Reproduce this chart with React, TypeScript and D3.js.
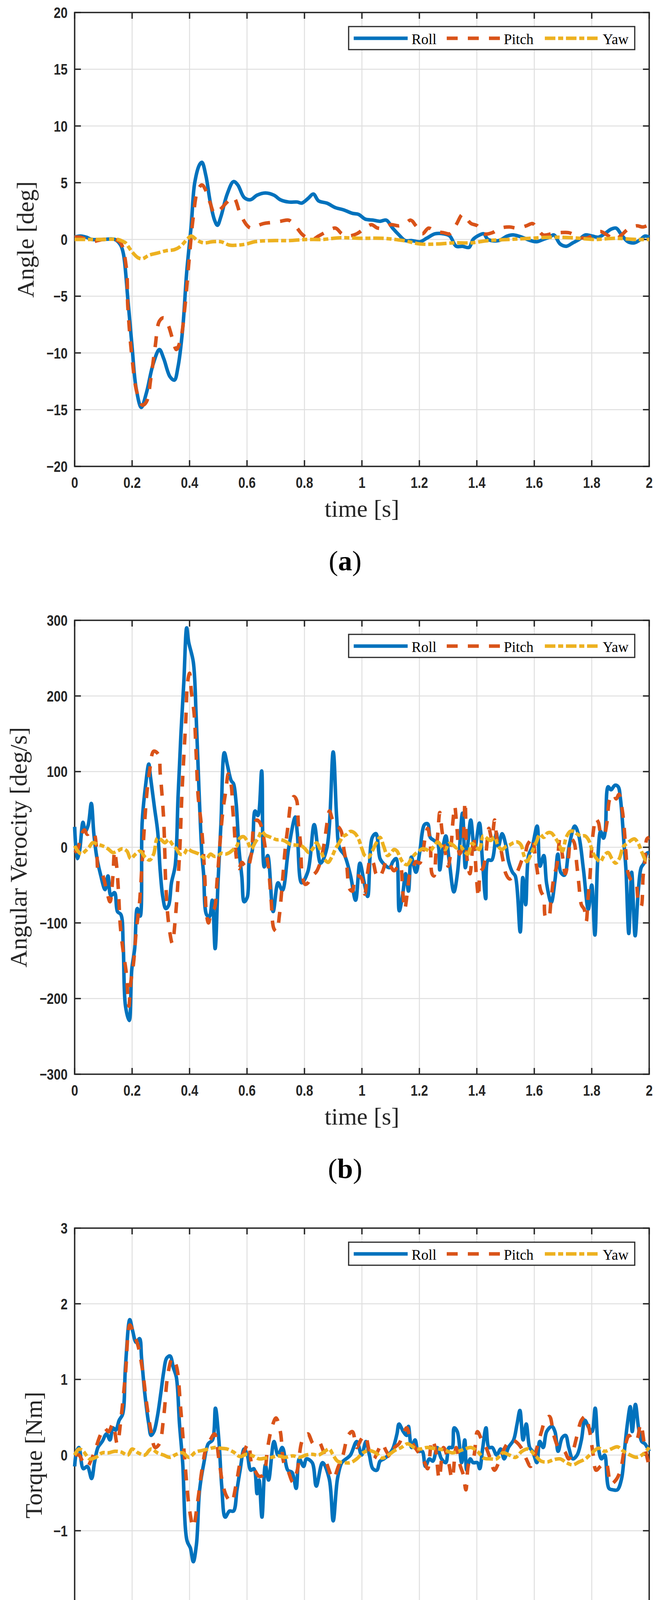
import React, { useEffect, useRef } from 'react';
import * as d3 from 'd3';

type Pt = [number, number];

// ---- axis ticks ----
const timeTicks = [0, 0.2, 0.4, 0.6, 0.8, 1, 1.2, 1.4, 1.6, 1.8, 2];
const angleTicks = [-20, -15, -10, -5, 0, 5, 10, 15, 20];
const velocityTicks = [-300, -200, -100, 0, 100, 200, 300];
const torqueTicks = [-3, -2, -1, 0, 1, 2, 3];
const seriesNames = ['Roll', 'Pitch', 'Yaw'];

// ---- (a) angle [deg] ----
const angleRoll: Pt[] = [[0,0.2],[0.02,0.3],[0.04,0.2],[0.06,0],[0.1,0],[0.14,0],[0.16,-0.5],[0.17,-1.3],[0.185,-5.2],[0.2,-9.5],[0.214,-13.1],[0.232,-14.8],[0.25,-13.5],[0.273,-11],[0.295,-9.7],[0.31,-10.5],[0.332,-12.1],[0.347,-12.4],[0.36,-11.2],[0.376,-7.9],[0.39,-2.9],[0.406,1.3],[0.418,5],[0.435,6.6],[0.443,6.8],[0.457,5.6],[0.472,3.3],[0.487,1.7],[0.497,1.25],[0.509,2.0],[0.531,4.0],[0.553,5.1],[0.568,4.8],[0.59,3.7],[0.612,3.5],[0.635,3.9],[0.664,4.1],[0.694,3.9],[0.716,3.5],[0.745,3.3],[0.775,3.3],[0.79,3.2],[0.812,3.6],[0.831,4.0],[0.849,3.4],[0.878,3.2],[0.908,2.8],[0.937,2.6],[0.967,2.3],[0.989,2.2],[1.011,1.8],[1.04,1.7],[1.063,1.6],[1.085,1.7],[1.107,1.0],[1.129,0.4],[1.151,-0.1],[1.173,-0.1],[1.203,-0.2],[1.225,0.1],[1.255,0.5],[1.284,0.5],[1.306,0.3],[1.328,-0.6],[1.35,-0.6],[1.373,-0.7],[1.387,0],[1.41,0.4],[1.424,0.5],[1.439,0],[1.476,-0.1],[1.506,0.3],[1.528,0.4],[1.557,0.2],[1.587,-0.1],[1.609,-0.2],[1.631,0],[1.653,0.2],[1.668,0.4],[1.69,-0.4],[1.712,-0.6],[1.734,-0.3],[1.756,0],[1.778,0.4],[1.801,0.3],[1.823,0.2],[1.845,0.5],[1.867,0.9],[1.885,1.0],[1.904,0.4],[1.926,-0.2],[1.948,-0.3],[1.97,0],[1.985,0.3],[2,0.2]];
const anglePitch: Pt[] = [[0,0.2],[0.02,0.2],[0.04,0],[0.06,-0.2],[0.08,-0.1],[0.1,0],[0.14,0],[0.16,-0.3],[0.18,-2.5],[0.185,-5.9],[0.2,-10.5],[0.217,-13.5],[0.236,-14.6],[0.25,-14.3],[0.266,-12.1],[0.28,-9.5],[0.295,-7.2],[0.31,-6.9],[0.325,-7.5],[0.34,-8.7],[0.354,-9.7],[0.369,-8.8],[0.384,-5.9],[0.398,-1.9],[0.413,2.0],[0.428,4.3],[0.443,4.8],[0.457,4.3],[0.472,3.2],[0.487,2.3],[0.509,2.7],[0.531,3.3],[0.553,3.7],[0.576,2.3],[0.598,1.3],[0.613,1.0],[0.635,1.2],[0.657,1.4],[0.686,1.5],[0.716,1.6],[0.745,1.7],[0.768,1.2],[0.79,0.5],[0.805,0.2],[0.827,0],[0.849,0.3],[0.878,0.7],[0.908,1.0],[0.93,0.5],[0.952,0.3],[0.982,0.5],[1.011,1.0],[1.033,1.3],[1.055,1.0],[1.078,1.0],[1.1,1.3],[1.129,1.2],[1.151,1.4],[1.17,1.7],[1.188,1.2],[1.21,0.5],[1.232,1.0],[1.255,0.7],[1.284,0.6],[1.306,0.5],[1.328,1.3],[1.35,2.2],[1.365,1.8],[1.38,1.4],[1.402,1.2],[1.424,0.5],[1.454,0.6],[1.483,1.0],[1.513,1.1],[1.542,1.0],[1.572,1.2],[1.594,1.4],[1.609,1.0],[1.631,0.4],[1.661,0.5],[1.69,0.6],[1.72,0.6],[1.749,0.3],[1.778,0.1],[1.808,0.4],[1.83,0.7],[1.853,0.4],[1.882,0],[1.904,0.4],[1.926,0.9],[1.956,1.2],[1.978,1.1],[2,1.3]];
const angleYaw: Pt[] = [[0,0],[0.1,0],[0.15,0],[0.17,-0.2],[0.177,-0.3],[0.2,-1.1],[0.22,-1.6],[0.236,-1.7],[0.258,-1.4],[0.288,-1.2],[0.317,-1.0],[0.347,-0.9],[0.369,-0.6],[0.391,0],[0.406,0.3],[0.428,-0.1],[0.45,-0.3],[0.48,-0.2],[0.509,-0.2],[0.539,-0.5],[0.568,-0.5],[0.598,-0.4],[0.627,-0.2],[0.686,-0.1],[0.745,-0.1],[0.805,0],[0.863,0],[0.922,0.15],[0.996,0.1],[1.07,0.1],[1.144,-0.1],[1.203,-0.4],[1.262,-0.4],[1.32,-0.3],[1.38,-0.3],[1.439,-0.1],[1.513,0],[1.587,0.1],[1.661,0.2],[1.734,0.15],[1.808,0],[1.882,0.1],[1.956,0],[2,0]];

// ---- (b) angular velocity [deg/s] ----
const velocityRoll: Pt[] = [[0,27],[0.009,-15],[0.017,-5],[0.029,33],[0.037,21],[0.047,29],[0.058,58],[0.067,17],[0.077,-13],[0.09,-36],[0.106,-56],[0.116,-38],[0.126,-64],[0.139,-60],[0.149,-85],[0.161,-89],[0.169,-130],[0.177,-210],[0.19,-229],[0.199,-161],[0.209,-134],[0.218,-81],[0.228,-91],[0.235,33],[0.247,82],[0.258,110],[0.264,93],[0.278,52],[0.289,21],[0.298,-32],[0.307,-66],[0.317,-81],[0.327,-77],[0.337,-47],[0.35,-24],[0.36,67],[0.37,150],[0.38,218],[0.39,290],[0.397,271],[0.413,245],[0.423,173],[0.433,74],[0.443,-9],[0.449,-36],[0.459,-89],[0.469,-92],[0.479,-70],[0.489,-134],[0.499,-47],[0.509,29],[0.521,125],[0.532,108],[0.545,88],[0.553,84],[0.562,59],[0.572,-2],[0.582,-39],[0.59,-72],[0.601,-66],[0.608,-17],[0.618,-5],[0.628,48],[0.638,42],[0.651,101],[0.66,-26],[0.672,-11],[0.691,-85],[0.708,-47],[0.723,-57],[0.745,-1],[0.768,40],[0.775,19],[0.79,-47],[0.812,-32],[0.834,30],[0.856,-21],[0.878,-1],[0.9,126],[0.912,40],[0.922,-1],[0.94,-11],[0.96,-37],[0.978,-70],[0.993,-21],[1.008,-47],[1.02,-65],[1.036,13],[1.049,18],[1.063,-15],[1.076,-22],[1.096,-27],[1.108,-19],[1.119,-15],[1.13,-84],[1.142,-62],[1.152,-35],[1.162,-58],[1.172,-13],[1.188,-33],[1.201,-7],[1.218,30],[1.229,31],[1.238,13],[1.251,9],[1.264,5],[1.271,-30],[1.28,-5],[1.292,15],[1.303,-15],[1.32,-59],[1.333,-33],[1.35,45],[1.36,-27],[1.369,5],[1.379,36],[1.392,-3],[1.409,32],[1.419,-15],[1.431,-68],[1.439,-17],[1.452,-17],[1.468,19],[1.475,1],[1.488,18],[1.501,3],[1.511,-19],[1.524,-33],[1.534,-38],[1.551,-112],[1.56,-40],[1.57,-76],[1.58,-11],[1.593,1],[1.61,28],[1.62,-25],[1.633,-11],[1.643,-48],[1.659,-73],[1.672,-44],[1.682,-9],[1.692,-33],[1.705,-37],[1.722,3],[1.741,28],[1.755,15],[1.771,-29],[1.788,-82],[1.8,-50],[1.811,-116],[1.821,-15],[1.831,21],[1.841,12],[1.847,21],[1.857,80],[1.867,76],[1.881,82],[1.892,80],[1.9,64],[1.913,1],[1.919,-29],[1.929,-114],[1.939,-33],[1.951,-117],[1.962,-58],[1.972,-27],[1.982,-21],[1.992,-8],[2,-7]];
const velocityPitch: Pt[] = [[0,-7],[0.011,-2],[0.024,17],[0.034,23],[0.044,17],[0.057,21],[0.067,19],[0.077,-5],[0.083,-32],[0.096,-36],[0.11,-55],[0.123,-72],[0.133,-39],[0.139,-5],[0.146,-24],[0.152,-55],[0.159,-104],[0.169,-138],[0.179,-164],[0.189,-210],[0.195,-180],[0.205,-153],[0.215,-108],[0.225,-77],[0.235,-20],[0.243,29],[0.252,74],[0.261,101],[0.275,127],[0.291,123],[0.298,97],[0.304,70],[0.31,36],[0.314,-9],[0.317,-47],[0.327,-100],[0.34,-127],[0.35,-96],[0.36,-43],[0.367,6],[0.373,67],[0.38,120],[0.387,169],[0.393,218],[0.4,230],[0.406,207],[0.416,176],[0.423,123],[0.43,67],[0.44,33],[0.446,6],[0.453,-39],[0.459,-89],[0.466,-100],[0.476,-85],[0.486,-81],[0.496,-43],[0.506,6],[0.516,48],[0.526,74],[0.535,97],[0.545,82],[0.55,52],[0.555,29],[0.564,-17],[0.572,-28],[0.582,-20],[0.591,-24],[0.601,-28],[0.615,-9],[0.624,29],[0.634,36],[0.644,33],[0.654,21],[0.664,-2],[0.674,-24],[0.684,-70],[0.694,-108],[0.703,-111],[0.713,-89],[0.723,-47],[0.733,-2],[0.743,29],[0.753,59],[0.763,67],[0.772,63],[0.779,29],[0.786,6],[0.792,-36],[0.802,-49],[0.812,-47],[0.822,-39],[0.832,-36],[0.842,-32],[0.855,-20],[0.869,6],[0.879,33],[0.887,48],[0.898,36],[0.908,29],[0.918,27],[0.928,21],[0.937,-2],[0.947,-24],[0.957,-55],[0.967,-58],[0.977,-39],[0.99,-38],[1,-42],[1.01,-62],[1.02,-33],[1.03,-15],[1.04,-21],[1.049,-35],[1.06,-40],[1.073,-31],[1.086,-17],[1.1,-25],[1.112,-31],[1.132,-23],[1.142,-58],[1.149,-82],[1.158,-60],[1.168,-33],[1.178,-27],[1.188,-19],[1.201,-21],[1.211,-9],[1.222,17],[1.229,25],[1.238,5],[1.244,-35],[1.251,-38],[1.257,-11],[1.264,17],[1.271,46],[1.279,21],[1.29,-5],[1.3,-25],[1.307,-13],[1.317,35],[1.323,54],[1.33,29],[1.34,-9],[1.35,1],[1.359,60],[1.366,-15],[1.376,-35],[1.389,13],[1.399,-42],[1.406,-66],[1.412,-33],[1.422,-27],[1.432,-7],[1.442,25],[1.452,11],[1.462,36],[1.471,9],[1.481,1],[1.491,-17],[1.501,-35],[1.514,-42],[1.528,-38],[1.537,-35],[1.547,-27],[1.557,-17],[1.567,-11],[1.576,3],[1.586,9],[1.593,13],[1.603,-11],[1.613,-38],[1.623,-58],[1.633,-66],[1.639,-92],[1.649,-94],[1.659,-66],[1.669,-38],[1.679,-23],[1.689,11],[1.698,-11],[1.708,-35],[1.718,-17],[1.728,11],[1.738,7],[1.748,-23],[1.755,-48],[1.764,-76],[1.774,-82],[1.781,-98],[1.787,-68],[1.794,-38],[1.8,1],[1.807,25],[1.813,38],[1.823,33],[1.833,17],[1.843,17],[1.853,33],[1.863,64],[1.876,70],[1.885,64],[1.895,70],[1.906,50],[1.913,25],[1.919,-7],[1.926,-33],[1.939,-44],[1.952,-45],[1.962,-70],[1.972,-78],[1.979,-38],[1.985,-19],[1.992,11],[2,13]];
const velocityYaw: Pt[] = [[0,2],[0.011,-5],[0.024,-9],[0.037,-5],[0.05,0],[0.063,6],[0.08,4],[0.096,2],[0.116,-2],[0.133,-7],[0.149,-5],[0.166,-2],[0.182,-5],[0.195,-15],[0.212,-9],[0.228,-5],[0.245,-13],[0.261,-17],[0.275,-9],[0.288,12],[0.301,10],[0.314,6],[0.327,10],[0.34,4],[0.354,-2],[0.367,-9],[0.38,-9],[0.393,-2],[0.406,-5],[0.42,-7],[0.433,-9],[0.446,-13],[0.459,-15],[0.473,-9],[0.486,-12],[0.499,-11],[0.512,-8],[0.525,-9],[0.539,-7],[0.552,-3],[0.565,2],[0.575,12],[0.588,14],[0.601,8],[0.615,-2],[0.628,6],[0.641,14],[0.651,21],[0.664,16],[0.677,14],[0.69,12],[0.703,10],[0.717,10],[0.733,8],[0.75,4],[0.766,3],[0.789,2],[0.802,-2],[0.815,-7],[0.829,-2],[0.842,6],[0.855,-3],[0.869,-15],[0.882,-20],[0.895,-13],[0.908,-2],[0.921,6],[0.934,14],[0.947,17],[0.96,21],[0.974,19],[0.987,12],[1,-2],[1.01,-11],[1.023,-13],[1.036,-5],[1.049,5],[1.063,13],[1.076,1],[1.089,-11],[1.102,-7],[1.112,-3],[1.122,-5],[1.132,-13],[1.145,-21],[1.158,-23],[1.172,-15],[1.185,-9],[1.198,-5],[1.211,-2],[1.224,-3],[1.237,-5],[1.25,1],[1.264,7],[1.277,1],[1.29,-3],[1.303,5],[1.317,3],[1.33,-1],[1.343,1],[1.356,-5],[1.369,-9],[1.383,5],[1.396,1],[1.409,-3],[1.422,15],[1.435,12],[1.448,9],[1.462,13],[1.475,1],[1.488,-3],[1.501,1],[1.514,3],[1.528,6],[1.541,7],[1.554,3],[1.564,-11],[1.574,-19],[1.584,-13],[1.593,-5],[1.607,7],[1.62,17],[1.633,13],[1.646,19],[1.659,19],[1.672,13],[1.685,5],[1.698,-5],[1.711,13],[1.725,21],[1.738,21],[1.751,17],[1.764,15],[1.777,15],[1.79,9],[1.804,-7],[1.817,-15],[1.83,-19],[1.843,-11],[1.857,-7],[1.87,-15],[1.883,-21],[1.896,-15],[1.91,1],[1.923,5],[1.936,9],[1.949,11],[1.962,5],[1.975,-7],[1.989,-17],[2,-15]];

// ---- (c) torque [Nm] ----
const torqueRoll: Pt[] = [[0,-0.15],[0.007,0.05],[0.015,0.1],[0.03,-0.18],[0.044,-0.15],[0.059,-0.31],[0.069,-0.1],[0.081,0.1],[0.096,0.18],[0.111,0.28],[0.123,0.2],[0.133,0.36],[0.143,0.33],[0.155,0.46],[0.167,0.54],[0.177,1.18],[0.192,1.79],[0.202,1.64],[0.214,1.49],[0.226,1.54],[0.233,1.28],[0.244,0.82],[0.258,0.41],[0.266,0.26],[0.276,0.31],[0.288,0.51],[0.3,0.82],[0.31,1.1],[0.32,1.28],[0.332,1.31],[0.344,1.15],[0.354,1.03],[0.365,0.41],[0.376,-0.1],[0.391,-1.13],[0.403,-1.23],[0.413,-1.41],[0.424,-1.18],[0.435,-0.46],[0.45,-0.1],[0.465,0.15],[0.48,0.2],[0.49,0.62],[0.502,0.2],[0.512,-0.41],[0.524,-0.82],[0.539,-0.74],[0.553,-0.74],[0.565,-0.46],[0.576,-0.2],[0.59,0.08],[0.601,0],[0.613,-0.2],[0.624,-0.18],[0.635,-0.51],[0.642,-0.33],[0.652,-0.82],[0.664,-0.13],[0.675,-0.33],[0.694,0.18],[0.708,0],[0.723,0.1],[0.742,-0.2],[0.757,-0.23],[0.771,-0.44],[0.782,-0.05],[0.797,-0.15],[0.807,-0.05],[0.827,-0.1],[0.841,-0.41],[0.863,-0.1],[0.886,-0.31],[0.9,-0.87],[0.915,-0.31],[0.93,-0.1],[0.945,-0.05],[0.96,0],[0.982,0.18],[0.999,0],[1.014,0.18],[1.026,0],[1.038,-0.18],[1.052,-0.2],[1.063,-0.08],[1.077,-0.05],[1.092,0],[1.107,0.08],[1.122,0.28],[1.129,0.41],[1.144,0.31],[1.156,0.26],[1.162,0.38],[1.173,0.1],[1.185,0.2],[1.196,0.05],[1.21,0.05],[1.221,-0.15],[1.235,-0.05],[1.247,-0.08],[1.262,0.1],[1.277,-0.05],[1.292,-0.1],[1.303,0.1],[1.314,0.1],[1.321,0.36],[1.332,0.31],[1.347,-0.1],[1.358,0.2],[1.365,-0.2],[1.377,-0.05],[1.387,-0.1],[1.402,-0.1],[1.41,-0.18],[1.42,0.08],[1.432,0.36],[1.442,0.1],[1.454,0.1],[1.469,0],[1.483,0.08],[1.495,-0.05],[1.51,0.1],[1.528,0.2],[1.54,0.41],[1.55,0.59],[1.561,0.2],[1.572,0.41],[1.584,0.1],[1.594,0.05],[1.609,-0.1],[1.619,0.18],[1.631,0.1],[1.643,0.31],[1.661,0.38],[1.672,0.31],[1.683,0.05],[1.697,0.23],[1.709,0.26],[1.72,0.1],[1.734,-0.05],[1.749,0],[1.764,0.2],[1.776,0.46],[1.79,0.36],[1.801,0.31],[1.812,0.62],[1.823,0.1],[1.834,-0.05],[1.845,0],[1.86,-0.44],[1.875,-0.46],[1.889,-0.46],[1.904,-0.31],[1.915,0.1],[1.924,0.41],[1.934,0.64],[1.941,0.31],[1.952,0.67],[1.963,0.36],[1.974,0.18],[1.985,0.15],[2,0.05]];
const torquePitch: Pt[] = [[0,0],[0.015,0],[0.03,-0.1],[0.044,-0.15],[0.059,-0.05],[0.074,0.1],[0.089,0.26],[0.103,0.36],[0.118,0.31],[0.133,0.41],[0.148,0.15],[0.162,0.51],[0.177,1.08],[0.192,1.72],[0.207,1.59],[0.221,1.44],[0.236,1.13],[0.251,0.67],[0.266,0.31],[0.28,0.1],[0.295,0.15],[0.31,0.51],[0.325,1.08],[0.34,1.28],[0.354,1.18],[0.369,0.62],[0.384,-0.1],[0.398,-0.67],[0.413,-0.95],[0.428,-0.62],[0.443,-0.2],[0.458,0.1],[0.472,0.2],[0.487,0.28],[0.502,-0.05],[0.517,-0.41],[0.531,-0.56],[0.546,-0.62],[0.561,-0.41],[0.576,-0.1],[0.59,0.05],[0.605,0.15],[0.615,-0.1],[0.627,-0.2],[0.642,-0.28],[0.657,-0.26],[0.672,0.1],[0.686,0.36],[0.701,0.49],[0.716,0.31],[0.728,-0.1],[0.742,-0.2],[0.76,-0.36],[0.775,-0.2],[0.793,0.2],[0.812,0.28],[0.831,0.15],[0.849,0.18],[0.863,0.08],[0.881,-0.15],[0.9,-0.31],[0.918,-0.15],[0.934,0],[0.952,0.26],[0.967,0.31],[0.982,0.1],[0.996,0.2],[1.011,0.26],[1.026,0.05],[1.041,-0.05],[1.055,0.05],[1.07,0.15],[1.085,0.05],[1.1,-0.03],[1.114,0.1],[1.129,0.15],[1.144,0.28],[1.156,0.36],[1.17,0.2],[1.185,0.1],[1.203,0],[1.218,-0.1],[1.229,-0.18],[1.244,0.2],[1.255,0.1],[1.269,-0.31],[1.284,0.1],[1.299,-0.05],[1.314,-0.31],[1.328,0.1],[1.343,-0.15],[1.353,-0.26],[1.362,-0.46],[1.373,-0.1],[1.387,-0.05],[1.402,0.31],[1.417,0.2],[1.432,0.1],[1.447,-0.05],[1.461,-0.2],[1.476,-0.1],[1.491,0.05],[1.506,0.15],[1.52,0.2],[1.535,0.18],[1.554,0.1],[1.572,-0.05],[1.587,-0.15],[1.602,0],[1.613,0.15],[1.625,0.31],[1.638,0.46],[1.653,0.51],[1.668,0.26],[1.687,0.08],[1.705,0.05],[1.72,-0.05],[1.734,0.05],[1.749,0.26],[1.764,0.46],[1.778,0.51],[1.793,0.31],[1.805,0],[1.815,-0.2],[1.83,-0.15],[1.849,-0.1],[1.867,-0.38],[1.884,-0.33],[1.9,-0.2],[1.915,0.1],[1.93,0.26],[1.941,0.2],[1.956,0.2],[1.97,0.41],[1.985,0.1],[2,-0.15]];
const torqueYaw: Pt[] = [[0,0],[0.015,0.08],[0.03,0.05],[0.052,-0.05],[0.074,-0.03],[0.096,0.03],[0.118,0.03],[0.14,0.05],[0.162,0.04],[0.185,0],[0.2,0.08],[0.221,0.03],[0.244,0],[0.266,0.08],[0.288,0.03],[0.31,0],[0.332,-0.03],[0.354,0.01],[0.376,0.03],[0.398,-0.03],[0.421,0.04],[0.443,0.06],[0.465,0.08],[0.487,0.1],[0.509,0.09],[0.531,0.08],[0.553,0.04],[0.576,-0.02],[0.598,0.01],[0.62,-0.01],[0.642,-0.05],[0.664,-0.04],[0.686,-0.03],[0.708,-0.01],[0.731,-0.03],[0.76,-0.01],[0.782,-0.03],[0.805,0],[0.827,0.01],[0.849,0],[0.871,0.05],[0.886,0.08],[0.9,0],[0.915,-0.08],[0.937,-0.1],[0.96,-0.1],[0.982,-0.05],[1.004,0.03],[1.026,0.06],[1.048,0.03],[1.07,-0.04],[1.092,0],[1.114,0.06],[1.137,0.1],[1.159,0.15],[1.181,0.1],[1.203,0.08],[1.225,0.1],[1.247,0.09],[1.269,0.08],[1.292,0.06],[1.314,0.03],[1.336,0.05],[1.358,0.08],[1.38,0.1],[1.402,0.05],[1.424,-0.04],[1.447,-0.05],[1.469,-0.05],[1.491,0.03],[1.513,0],[1.535,-0.03],[1.557,0.05],[1.579,0.08],[1.602,0],[1.624,-0.08],[1.646,-0.09],[1.668,-0.06],[1.69,-0.05],[1.712,-0.1],[1.734,-0.13],[1.756,-0.09],[1.778,-0.05],[1.801,0.03],[1.823,0.09],[1.845,0.05],[1.867,0.08],[1.889,0.11],[1.911,0.05],[1.934,0],[1.956,-0.03],[1.978,0.01],[2,0.1]];

const W = 1704;
const H = 4608;
const left = 191;
const right = 1661;
const plotH = 1162;
const ink = '#262626';
const colors = ['#0072BD', '#D95319', '#EDB120'];
const dashes = [null, '28,26', '27,7,13,7'];
const sansFont = "'Liberation Sans', Arial, sans-serif";
const serifFont = "'Liberation Serif', 'DejaVu Serif', serif";

const fmt = (v: number) => (v < 0 ? '\u2212' + Math.abs(v) : String(v));

export default function App() {
  const svgRef = useRef<SVGSVGElement>(null);

  useEffect(() => {
    document.body.style.margin = '0';
    if (!svgRef.current) return;
    const svg = d3.select(svgRef.current);
    svg.selectAll('*').remove();

    const panels = [
      { top: 32, ticks: angleTicks, label: 'Angle [deg]', labelX: 86, tag: 'a', series: [angleRoll, anglePitch, angleYaw] },
      { top: 1588, ticks: velocityTicks, label: 'Angular Verocity [deg/s]', labelX: 68, tag: 'b', series: [velocityRoll, velocityPitch, velocityYaw] },
      { top: 3144, ticks: torqueTicks, label: 'Torque [Nm]', labelX: 107, tag: 'c', series: [torqueRoll, torquePitch, torqueYaw] },
    ];

    const x = d3.scaleLinear().domain([0, 2]).range([left, right]);

    panels.forEach(p => {
      const bottom = p.top + plotH;
      const y = d3.scaleLinear().domain([p.ticks[0], p.ticks[p.ticks.length - 1]]).range([bottom, p.top]);
      const g = svg.append('g');

      // grid
      g.append('g').selectAll('line').data(timeTicks).join('line')
        .attr('x1', d => x(d)).attr('x2', d => x(d)).attr('y1', p.top).attr('y2', bottom)
        .attr('stroke', '#dfdfdf').attr('stroke-width', 2.5);
      g.append('g').selectAll('line').data(p.ticks).join('line')
        .attr('x1', left).attr('x2', right).attr('y1', d => y(d)).attr('y2', d => y(d))
        .attr('stroke', '#dfdfdf').attr('stroke-width', 2.5);

      // box + inward ticks on all four sides
      g.append('rect').attr('x', left).attr('y', p.top).attr('width', right - left).attr('height', plotH)
        .attr('fill', 'none').attr('stroke', ink).attr('stroke-width', 3.5);
      const tk = g.append('g').attr('stroke', ink).attr('stroke-width', 3.5);
      timeTicks.forEach(t => {
        tk.append('line').attr('x1', x(t)).attr('x2', x(t)).attr('y1', bottom).attr('y2', bottom - 16);
        tk.append('line').attr('x1', x(t)).attr('x2', x(t)).attr('y1', p.top).attr('y2', p.top + 16);
      });
      p.ticks.forEach(v => {
        tk.append('line').attr('x1', left).attr('x2', left + 16).attr('y1', y(v)).attr('y2', y(v));
        tk.append('line').attr('x1', right).attr('x2', right - 16).attr('y1', y(v)).attr('y2', y(v));
      });

      // tick labels (narrow bold sans, squeezed horizontally)
      g.append('g').selectAll('text').data(timeTicks).join('text')
        .attr('transform', d => `translate(${x(d)},${bottom + 55}) scale(0.84,1)`).attr('text-anchor', 'middle')
        .attr('fill', ink).style('font-family', sansFont).style('font-weight', 'bold').style('font-size', '38px')
        .text(d => String(d));
      g.append('g').selectAll('text').data(p.ticks).join('text')
        .attr('transform', d => `translate(173,${y(d) + 14}) scale(0.84,1)`).attr('text-anchor', 'end')
        .attr('fill', ink).style('font-family', sansFont).style('font-weight', 'bold').style('font-size', '38px')
        .text(d => fmt(d));

      // axis labels
      g.append('text').attr('x', (left + right) / 2).attr('y', bottom + 129).attr('text-anchor', 'middle')
        .attr('fill', ink).style('font-family', serifFont).style('font-size', '62px').text('time [s]');
      g.append('text').attr('transform', `translate(${p.labelX},${p.top + plotH / 2}) rotate(-90)`)
        .attr('text-anchor', 'middle').attr('fill', ink)
        .style('font-family', serifFont).style('font-size', '62px').text(p.label);

      // caption
      const cap = g.append('text').attr('x', 883).attr('y', bottom + 266).attr('text-anchor', 'middle')
        .attr('fill', '#000').style('font-family', serifFont).style('font-size', '72px');
      cap.append('tspan').text('(');
      cap.append('tspan').style('font-weight', 'bold').text(p.tag);
      cap.append('tspan').text(')');

      // data
      const line = d3.line<Pt>().x(d => x(d[0])).y(d => y(d[1])).curve(d3.curveCatmullRom.alpha(0.5));
      p.series.forEach((s, i) => {
        g.append('path').datum(s).attr('d', line).attr('fill', 'none')
          .attr('stroke', colors[i]).attr('stroke-width', 9)
          .attr('stroke-linejoin', 'round')
          .attr('stroke-dasharray', dashes[i]);
      });

      // legend
      const lg = g.append('g');
      const ly = p.top + 66;
      lg.append('rect').attr('x', 892).attr('y', p.top + 36).attr('width', 732).attr('height', 59)
        .attr('fill', '#fff').attr('stroke', ink).attr('stroke-width', 3);
      const items = [
        { x0: 905, x1: 1043, tx: 1053 },
        { x0: 1143, x1: 1279, tx: 1289 },
        { x0: 1394, x1: 1530, tx: 1542 },
      ];
      items.forEach((it, i) => {
        lg.append('line').attr('x1', it.x0).attr('x2', it.x1).attr('y1', ly).attr('y2', ly)
          .attr('stroke', colors[i]).attr('stroke-width', 9).attr('stroke-dasharray', dashes[i]);
        lg.append('text').attr('x', it.tx).attr('y', ly + 15).attr('fill', '#000')
          .style('font-family', serifFont).style('font-size', '37px').text(seriesNames[i]);
      });
    });
  }, []);

  return (
    <svg
      ref={svgRef}
      width={W}
      height={H}
      viewBox={`0 0 ${W} ${H}`}
      style={{ display: 'block', background: '#fff' }}
    />
  );
}
